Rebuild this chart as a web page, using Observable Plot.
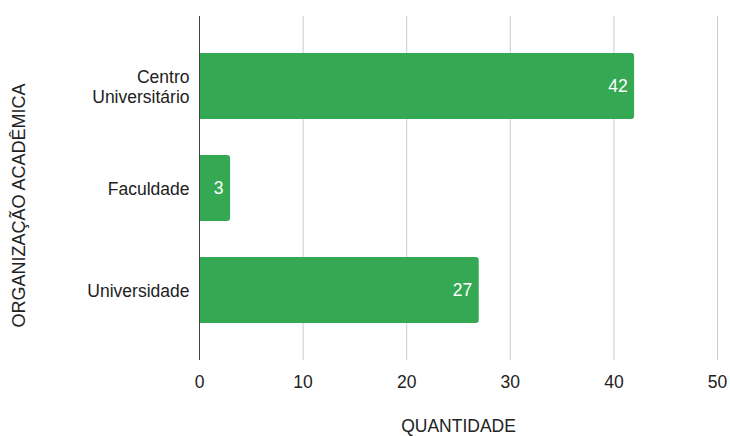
<!DOCTYPE html>
<html>
<head>
<meta charset="utf-8">
<script src="https://cdn.jsdelivr.net/npm/d3@7"></script>
<script src="https://cdn.jsdelivr.net/npm/@observablehq/plot@0.6"></script>
<style>
  body { margin: 0; background: #fff; }
  #chart svg { font-family: "Liberation Sans", Arial, sans-serif; }
</style>
</head>
<body>
<div id="chart"></div>
<script>
const categories = ["Centro\nUniversitário", "Faculdade", "Universidade"];
const values = [42, 3, 27];
const xTicks = [0, 10, 20, 30, 40, 50];
const xLabel = "QUANTIDADE";
const yLabel = "ORGANIZAÇÃO ACADÊMICA";

const data = categories.map((c, i) => ({cat: c, value: values[i]}));
const green = "#34A853";
const fs = 17.5;

const chart = Plot.plot({
  width: 730,
  height: 436,
  marginLeft: 199,
  marginRight: 13,
  marginTop: 16,
  marginBottom: 76,
  style: {fontSize: fs + "px", fontFamily: "'Liberation Sans', Arial, sans-serif", color: "#222", background: "#fff"},
  x: {domain: [0, 50], ticks: xTicks, label: null},
  y: {domain: categories, padding: 0.35, axis: null},
  marks: [
    Plot.ruleX(xTicks.filter(t => t !== 0), {stroke: "#cccccc", strokeOpacity: 1, strokeWidth: 1}),
    Plot.barX(data, {x: "value", y: "cat", fill: green, rx: 3}),
    Plot.barX(data, {x1: 0, x2: d => d.value / 2, y: "cat", fill: green}),
    Plot.ruleX([0], {stroke: "#444", strokeWidth: 1}),
    Plot.axisX({ticks: xTicks, tickSize: 0, tickPadding: 15, fontSize: fs, fill: "#222", label: null}),
    Plot.text(data, {x: "value", y: "cat", text: d => String(d.value), textAnchor: "end", dx: -7, fill: "white", fontSize: fs}),
    Plot.text(data, {y: "cat", text: "cat", frameAnchor: "left", textAnchor: "end", dx: -10, lineHeight: 1.13, fontSize: fs, fill: "#222"}),
    Plot.text([yLabel], {frameAnchor: "left", text: d => d, rotate: -90, textAnchor: "middle", dx: -180, dy: 17, fontSize: 18, fill: "#222"}),
    Plot.text([xLabel], {frameAnchor: "bottom", text: d => d, textAnchor: "middle", dy: 66, fontSize: fs, fill: "#222", lineAnchor: "middle"})
  ]
});
document.getElementById("chart").appendChild(chart);
</script>
</body>
</html>
